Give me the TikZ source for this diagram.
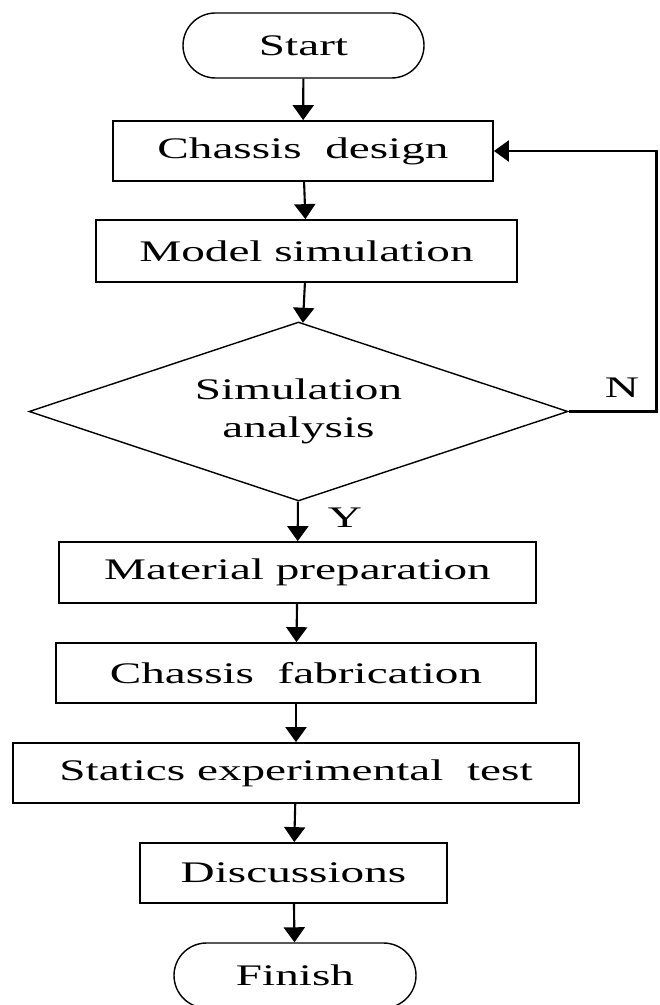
\documentclass[tikz,border=0pt]{standalone}
\usepackage{fontspec}
\setmainfont[FakeStretch=1.58]{Liberation Serif}
\usetikzlibrary{shapes.geometric,arrows.meta}

\tikzset{
	stepbox/.style={rectangle,draw=black,line width=1pt,inner sep=0pt,minimum height=1.2cm},
	termbox/.style={rectangle,rounded corners=0.65cm,draw=black,line width=0.8pt,inner sep=0pt,minimum height=1.3cm},
	decbox/.style={diamond,aspect=3,draw=black,line width=0.8pt,inner sep=0pt,align=center},
	arr/.style={-{Triangle[length=0.3cm,width=0.42cm]},line width=1.2pt}
}

\begin{document}
\begin{tikzpicture}[font=\fontsize{17}{22}\selectfont]
	\useasboundingbox (0,0) rectangle (13.18,-20.1);
	\node[termbox,minimum width=4.82cm] (start) at (6.07,-0.91) {Start};
	\node[stepbox,minimum width=7.6cm] (design) at (6.06,-3.02) {Chassis\ \ design};
	\node[stepbox,minimum width=8.42cm,minimum height=1.24cm] (model) at (6.13,-5.02) {Model simulation};
	\node[decbox,minimum width=10.78cm,minimum height=3.58cm] (check) at (5.97,-8.23) {Simulation\\analysis};
	\node[stepbox,minimum width=9.54cm,minimum height=1.22cm] (material) at (5.95,-11.45) {Material preparation};
	\node[stepbox,minimum width=9.6cm] (fabric) at (5.92,-13.46) {Chassis\ \ fabrication};
	\node[stepbox,minimum width=11.32cm] (statics) at (5.92,-15.46) {Statics experimental\ \ test};
	\node[stepbox,minimum width=6.14cm] (discuss) at (5.87,-17.46) {Discussions};
	\node[termbox,minimum width=4.84cm] (finish) at (5.9,-19.51) {Finish};
	\coordinate (back) at (13.13,-3.02);

	\foreach \x/\y in {start/design,design/model,model/check,check/material,material/fabric,fabric/statics,statics/discuss,discuss/finish}
		\draw[arr] (\x) -- (\y);
	\draw[arr] (check.east) -| (back) -- (design.east);

	\node (no) at (12.44,-7.76) {N};
	\node (yes) at (6.9,-10.36) {Y};
\end{tikzpicture}
\end{document}
